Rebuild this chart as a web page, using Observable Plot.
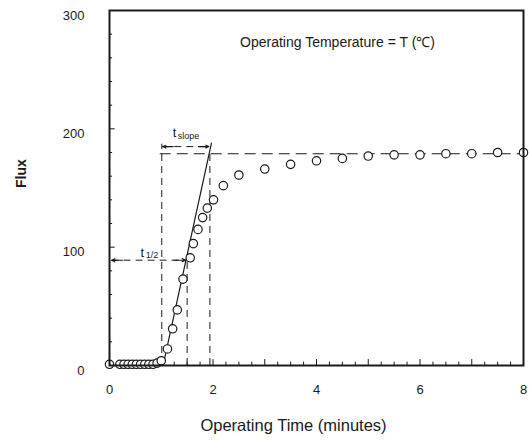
<!DOCTYPE html>
<html>
<head>
<meta charset="utf-8">
<script src="https://cdn.jsdelivr.net/npm/d3@7"></script>
<script src="https://cdn.jsdelivr.net/npm/@observablehq/plot@0.6"></script>
<style>
  html, body { margin: 0; padding: 0; background: #fff; }
  svg { display: block; }
</style>
</head>
<body>
<div id="chart"></div>
<script>
// Measured data (Operating time in minutes, Flux)
const time = [0, 0.2, 0.28, 0.36, 0.44, 0.52, 0.6, 0.68, 0.76, 0.84, 0.92, 1.0,
  1.12, 1.22, 1.31, 1.42, 1.56, 1.62, 1.71, 1.80, 1.89, 2.01, 2.2, 2.5,
  3, 3.5, 4, 4.5, 5, 5.5, 6, 6.5, 7, 7.5, 8];
const flux = [1, 1, 1, 1, 1, 1, 1, 1, 1, 1, 2, 4,
  14, 31, 47, 73, 91, 103, 115, 125, 133, 140, 152, 161,
  166, 170, 173, 175, 177, 178, 178, 179, 179, 180, 180];

// Construction lines
const slopeT = [1.04, 1.97];
const slopeF = [1, 188];
const plateauFlux = 179;
const halfFlux = 89;
const tStart = 1.01;
const tHalf = 1.5;
const tEnd = 1.94;
const slopeArrowFlux = 185;

// Tick labels
const xTicks = [0, 2, 4, 6, 8];
const yTicks = [0, 100, 200, 300];
const xMinor = d3.range(0.25, 8, 0.25);
const yMinor = d3.range(20, 300, 20);

const points = time.map((t, i) => ({t, f: flux[i]}));
const slope = slopeT.map((t, i) => ({t, f: slopeF[i]}));

// arrow heads: short solid segments pointing to each end of the dashed spans
const heads = [
  {x1: 0.25, x2: 0.04, y: halfFlux},
  {x1: tHalf - 0.25, x2: tHalf - 0.03, y: halfFlux},
  {x1: tStart + 0.22, x2: tStart + 0.02, y: slopeArrowFlux},
  {x1: tEnd - 0.22, x2: tEnd - 0.02, y: slopeArrowFlux}
];

const dash = "7,5";
const ink = "#1a1a1a";

const chart = Plot.plot({
  width: 529,
  height: 441,
  marginLeft: 109,
  marginRight: 6,
  marginTop: 10,
  marginBottom: 76,
  style: {fontFamily: "'Liberation Sans', Arial, sans-serif", color: ink, background: "#fff"},
  x: {domain: [0, 8]},
  y: {domain: [0, 300]},
  marks: [
    // minor ticks (inward)
    Plot.ruleX(xMinor, {x: d => d, y1: 0, y2: d => (d % 1 === 0 ? 5 : 2.8), stroke: ink, strokeWidth: 1}),
    Plot.ruleY(yMinor, {y: d => d, x1: 0, x2: d => (d % 100 === 0 ? 0.11 : 0.06), stroke: ink, strokeWidth: 1}),
    Plot.axisX({ticks: xTicks, tickSize: 0, tickPadding: 19, fontSize: 13, label: null}),
    Plot.axisY({ticks: yTicks, tickSize: 0, tickPadding: 25, fontSize: 13, dy: 5, label: null}),
    Plot.text(["Flux"], {frameAnchor: "left", dx: -88, rotate: -90, fontWeight: "bold", fontSize: 14}),
    Plot.text(["Operating Time (minutes)"], {frameAnchor: "bottom", dx: -23, dy: 65, fontSize: 16.5}),
    Plot.text(["Operating Temperature = T (\u2103)"], {frameAnchor: "top", dx: 21, dy: 27, fontSize: 14}),

    // dashed construction lines
    Plot.ruleY([plateauFlux], {x1: tStart - 0.03, x2: 8, stroke: ink, strokeDasharray: "11,6", strokeWidth: 1.1}),
    Plot.ruleX([tStart], {y1: 0, y2: slopeArrowFlux + 2, stroke: ink, strokeDasharray: dash, strokeWidth: 1}),
    Plot.ruleX([tHalf], {y1: 0, y2: halfFlux + 2, stroke: ink, strokeDasharray: dash, strokeWidth: 1}),
    Plot.ruleX([tEnd], {y1: 0, y2: plateauFlux + 3, stroke: ink, strokeDasharray: dash, strokeWidth: 1}),
    Plot.ruleY([halfFlux], {x1: 0.05, x2: tHalf - 0.04, stroke: ink, strokeDasharray: dash, strokeWidth: 1}),
    Plot.ruleY([slopeArrowFlux], {x1: tStart + 0.02, x2: tEnd - 0.02, stroke: ink, strokeDasharray: dash, strokeWidth: 1}),
    Plot.arrow(heads, {x1: "x1", x2: "x2", y1: "y", y2: "y", stroke: ink, strokeWidth: 1.1, headLength: 7, headAngle: 50}),

    // slope line
    Plot.line(slope, {x: "t", y: "f", stroke: ink, strokeWidth: 1.2}),

    // data points
    Plot.dot(points, {x: "t", y: "f", r: 4.2, stroke: ink, fill: "white", strokeWidth: 1.2}),

    // labels t_1/2 and t_slope
    Plot.text([0], {x: 0.6, y: halfFlux + 3, text: () => "t", fontSize: 13, textAnchor: "start", lineAnchor: "bottom"}),
    Plot.text([0], {x: 0.7, y: halfFlux + 2, text: () => "1/2", fontSize: 9, textAnchor: "start", lineAnchor: "top", dy: -6}),
    Plot.text([0], {x: 1.22, y: slopeArrowFlux + 8, text: () => "t", fontSize: 13, textAnchor: "start", lineAnchor: "bottom"}),
    Plot.text([0], {x: 1.32, y: slopeArrowFlux + 7, text: () => "slope", fontSize: 9, textAnchor: "start", lineAnchor: "top", dy: -6}),

    Plot.frame({stroke: ink, strokeWidth: 2})
  ]
});
document.getElementById("chart").appendChild(chart);
</script>
</body>
</html>
